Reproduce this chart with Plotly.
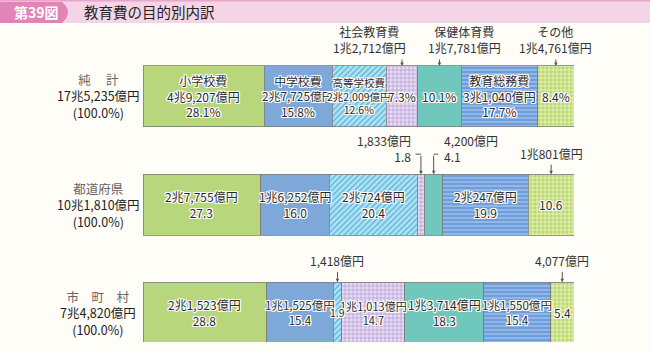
import numpy as np
import plotly.graph_objects as go

# ---------------- data ----------------
categories = ["小学校費", "中学校費", "高等学校費", "社会教育費", "保健体育費", "教育総務費", "その他"]
row_names = ["純　 計", "都道府県", "市　町　村"]
row_totals = ["17兆5,235億円", "10兆1,810億円", "7兆4,820億円"]
row_shares = ["(100.0%)", "(100.0%)", "(100.0%)"]

# amounts in 億円
total_vals = [49207, 27725, 22009, 12712, 17781, 31040, 14761]
pref_vals = [27755, 16252, 20724, 1833, 4200, 20247, 10801]
muni_vals = [21523, 11525, 1418, 11013, 13714, 11550, 4077]

total_amt = ["4兆9,207億円", "2兆7,725億円", "2兆2,009億円", "1兆2,712億円", "1兆7,781億円", "3兆1,040億円", "1兆4,761億円"]
pref_amt = ["2兆7,755億円", "1兆6,252億円", "2兆724億円", "1,833億円", "4,200億円", "2兆247億円", "1兆801億円"]
muni_amt = ["2兆1,523億円", "1兆1,525億円", "1,418億円", "1兆1,013億円", "1兆3,714億円", "1兆1,550億円", "4,077億円"]

total_pct = ["28.1", "15.8", "12.6", "7.3", "10.1", "17.7", "8.4"]
pref_pct = ["27.3", "16.0", "20.4", "1.8", "4.1", "19.9", "10.6"]
muni_pct = ["28.8", "15.4", "1.9", "14.7", "18.3", "15.4", "5.4"]

rows_vals = [total_vals, pref_vals, muni_vals]

# ---------------- style ----------------
FONT = "Noto Sans CJK JP"
BG = "#fefdf8"
fills = [
    dict(bg="#b8d67c", fg="#b8d67c", shape=""),
    dict(bg="#7ea8d8", fg="#7ea8d8", shape=""),
    dict(bg="#b4e2f3", fg="#58b5dc", shape="/"),
    dict(bg="#e6dbf2", fg="#b79ed8", shape="+"),
    dict(bg="#70c7bb", fg="#70c7bb", shape=""),
    dict(bg="#6d9edb", fg="#a3c2ec", shape="-"),
    dict(bg="#bcd96e", fg="#eef6d0", shape="+"),
]
HALO = ("1px 1px 0 #fff, -1px -1px 0 #fff, 1px -1px 0 #fff, -1px 1px 0 #fff, "
        "0 1px 0 #fff, 1px 0 0 #fff, 0 -1px 0 #fff, -1px 0 0 #fff")
BW = 0.564  # bar thickness (category units)

fig = go.Figure()
for i, cat in enumerate(categories):
    f = fills[i]
    pat = dict(shape=f["shape"], bgcolor=f["bg"], fgcolor=f["fg"], size=4,
               solidity=0.35, fillmode="replace") if f["shape"] else None
    fig.add_trace(go.Bar(
        y=[0, 1, 2], x=[r[i] for r in rows_vals], orientation="h", name=cat,
        width=BW, marker=dict(color=f["bg"], line=dict(color="#7d7d7d", width=0.8),
                              pattern=pat),
        hoverinfo="skip", showlegend=False))

W0, W1 = 143, 574
T, B = 40, 10
H = 352 - T - B
r0 = -0.522
r1 = r0 + H / 108.2

fig.update_layout(
    width=650, height=352, barmode="stack", barnorm="percent",
    margin=dict(l=W0, r=650 - W1, t=T, b=B),
    paper_bgcolor=BG, plot_bgcolor=BG,
    xaxis=dict(range=[0, 100], visible=False, fixedrange=True),
    yaxis=dict(range=[r1, r0], visible=False, fixedrange=True),
    font=dict(family=FONT, size=12, color="#222"),
)


def px_x(px):
    return (px - W0) / (W1 - W0)


def px_y(py):
    return 1 - (py - T) / H


def est_em(line):
    w = 0.0
    for ch in line:
        if ch.isdigit():
            w += 0.5
        elif ch in ",.":
            w += 0.25
        elif ch == "%":
            w += 0.8
        else:
            w += 1.0
    return w


ann = []


def shares(vals):
    v = np.asarray(vals, float)
    return v / v.sum() * 100


def centers(vals):
    p = shares(vals)
    return np.cumsum(p) - p / 2


def inside(x, y, text, seg_pct, smax=12.0):
    seg_px = seg_pct / 100 * (W1 - W0)
    widest = max(est_em(s) for s in text.split("<br>"))
    size = min(smax, max(10.5, seg_px / widest))
    ann.append(dict(x=x, y=y, xref="x", yref="y", text=text, showarrow=False,
                    font=dict(family=FONT, size=size, color="#2a2a2a", shadow=HALO),
                    align="center"))


def above(x, y, text, xshift=0, yshift=8, xanchor="center", align="center"):
    ann.append(dict(x=x, y=y, xref="x", yref="y", text=text, showarrow=False,
                    xanchor=xanchor, yanchor="bottom", xshift=xshift, yshift=yshift,
                    align=align, font=dict(family=FONT, size=12, color="#333")))


def arrow(x, y, length):
    ann.append(dict(x=x, y=y, xref="x", yref="y", text="", showarrow=True,
                    ax=0, ay=-length, arrowhead=2, arrowsize=0.7, arrowwidth=1,
                    arrowcolor="#555", standoff=0))


def stub(x, y, dx, yshift):
    ann.append(dict(x=x, y=y, xref="x", yref="y", text="", showarrow=True,
                    ax=dx, ay=0, arrowhead=0, arrowwidth=1, arrowcolor="#555",
                    standoff=0, yshift=yshift))


# --- row 0: 純計 ---
c = centers(total_vals)
p = shares(total_vals)
top = 0 - BW / 2
for i in [0, 1, 2, 5]:
    inside(c[i], 0, f"{categories[i]}<br>{total_amt[i]}<br>{total_pct[i]}%", p[i])
for i in [3, 4, 6]:
    inside(c[i], 0, f"{total_pct[i]}%", p[i] + 3)
    arrow(c[i], top, 8)
above(c[3], top, f"{categories[3]}<br>{total_amt[3]}", xshift=-32)
above(c[4], top, f"{categories[4]}<br>{total_amt[4]}", xshift=25)
above(c[6], top, f"{categories[6]}<br>{total_amt[6]}")

# --- row 1: 都道府県 ---
c = centers(pref_vals)
p = shares(pref_vals)
top = 1 - BW / 2
for i in [0, 1, 2, 5]:
    inside(c[i], 1, f"{pref_amt[i]}<br>{pref_pct[i]}", p[i])
inside(c[6], 1, pref_pct[6], p[6])
arrow(c[6], top, 11)
above(c[6], top, pref_amt[6], yshift=10)
arrow(c[3], top, 20)
stub(c[3], top, -7, 20)
above(c[3], top, f"{pref_amt[3]}<br>{pref_pct[3]}", xshift=-8, yshift=7,
      xanchor="right", align="right")
arrow(c[4], top, 20)
stub(c[4], top, 6, 20)
above(c[4], top, f"{pref_amt[4]}<br>{pref_pct[4]}", xshift=8, yshift=7,
      xanchor="left", align="left")

# --- row 2: 市町村 ---
c = centers(muni_vals)
p = shares(muni_vals)
top = 2 - BW / 2
for i in [0, 1, 3, 4, 5]:
    inside(c[i], 2, f"{muni_amt[i]}<br>{muni_pct[i]}", p[i])
inside(c[2], 2, muni_pct[2], p[2], smax=10.5)
inside(c[6], 2, muni_pct[6], p[6] + 4)
for i in [2, 6]:
    arrow(c[i], top, 12)
    above(c[i], top, muni_amt[i], yshift=11)

# --- row labels ---
for r in range(3):
    ann.append(dict(x=px_x(98), y=r, xref="paper", yref="y", showarrow=False,
                    xanchor="center", yanchor="middle", align="center",
                    text=f"<span style='color:#666'>{row_names[r]}</span><br>{row_totals[r]}<br>{row_shares[r]}",
                    font=dict(family=FONT, size=12.5, color="#222")))

# --- title ---
ann.append(dict(x=px_x(36), y=px_y(12), xref="paper", yref="paper", showarrow=False,
                text="<b>第39図</b>", xanchor="center", yanchor="middle",
                font=dict(family=FONT, size=14, color="#ffffff")))
ann.append(dict(x=px_x(82), y=px_y(12), xref="paper", yref="paper", showarrow=False,
                text="教育費の目的別内訳", xanchor="left", yanchor="middle",
                font=dict(family=FONT, size=14.5, color="#222")))

shapes = [
    dict(type="rect", xref="paper", yref="paper", x0=px_x(0), x1=px_x(650),
         y0=px_y(23), y1=px_y(0), fillcolor="#f3d5e5", line=dict(width=0), layer="below"),
    dict(type="rect", xref="paper", yref="paper", x0=px_x(0), x1=px_x(650),
         y0=px_y(1.5), y1=px_y(0), fillcolor="#e7a6ca", line=dict(width=0), layer="below"),
    dict(type="path", xref="paper", yref="paper", layer="below",
         path=(f"M {px_x(0)},{px_y(2)} L {px_x(62)},{px_y(2)} "
               f"Q {px_x(74)},{px_y(12)} {px_x(62)},{px_y(23)} "
               f"L {px_x(0)},{px_y(23)} Z"),
         fillcolor="#e284b8", line=dict(width=0)),
]

fig.update_layout(annotations=ann, shapes=shapes)
fig.write_html("out.html")
